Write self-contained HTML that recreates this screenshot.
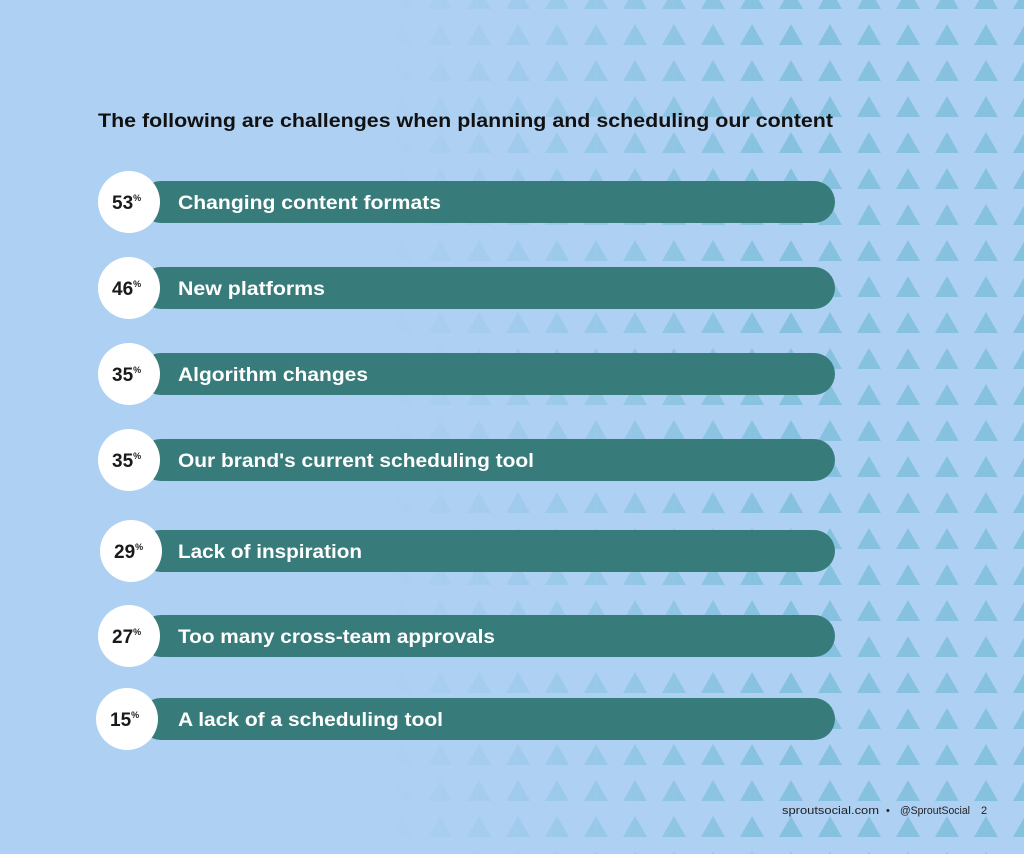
<!DOCTYPE html>
<html><head><style>
body{margin:0;width:1024px;height:854px;overflow:hidden;background:#aed0f3;font-family:"Liberation Sans",sans-serif}
</style></head><body>
<svg width="1024" height="854" xmlns="http://www.w3.org/2000/svg" style="position:absolute;left:0;top:0">
<defs>
<pattern id="tri" patternUnits="userSpaceOnUse" x="30.5" y="24" width="39" height="36">
<polygon points="7.5,21 19.5,0 31.5,21" fill="#86c2df"/>
</pattern>
<linearGradient id="g" x1="0" x2="1" y1="0" y2="0">
<stop offset="0" stop-color="#fff" stop-opacity="0"/>
<stop offset="0.38" stop-color="#fff" stop-opacity="0"/>
<stop offset="0.75" stop-color="#fff" stop-opacity="1"/>
<stop offset="1" stop-color="#fff" stop-opacity="1"/>
</linearGradient>
<mask id="m"><rect width="1024" height="854" fill="url(#g)"/></mask>
</defs>
<rect width="1024" height="854" fill="#aed0f3"/>
<rect width="1024" height="854" fill="url(#tri)" mask="url(#m)"/>
<text x="98" y="127" font-size="19" font-weight="bold" fill="#111" textLength="735" lengthAdjust="spacingAndGlyphs">The following are challenges when planning and scheduling our content</text>
<g font-weight="bold">
<g transform="translate(0,202)"><rect x="140" y="-21" width="695" height="42" rx="21" fill="#377b7a"/><circle cx="129" cy="0" r="31" fill="#fff"/><text x="112" y="7" font-size="19" fill="#1a1a1a">53<tspan font-size="9" dy="-8">%</tspan></text><text x="178" y="7" font-size="19" fill="#fff" textLength="263" lengthAdjust="spacingAndGlyphs">Changing content formats</text></g>
<g transform="translate(0,288)"><rect x="140" y="-21" width="695" height="42" rx="21" fill="#377b7a"/><circle cx="129" cy="0" r="31" fill="#fff"/><text x="112" y="7" font-size="19" fill="#1a1a1a">46<tspan font-size="9" dy="-8">%</tspan></text><text x="178" y="7" font-size="19" fill="#fff" textLength="147" lengthAdjust="spacingAndGlyphs">New platforms</text></g>
<g transform="translate(0,374)"><rect x="140" y="-21" width="695" height="42" rx="21" fill="#377b7a"/><circle cx="129" cy="0" r="31" fill="#fff"/><text x="112" y="7" font-size="19" fill="#1a1a1a">35<tspan font-size="9" dy="-8">%</tspan></text><text x="178" y="7" font-size="19" fill="#fff" textLength="190" lengthAdjust="spacingAndGlyphs">Algorithm changes</text></g>
<g transform="translate(0,460)"><rect x="140" y="-21" width="695" height="42" rx="21" fill="#377b7a"/><circle cx="129" cy="0" r="31" fill="#fff"/><text x="112" y="7" font-size="19" fill="#1a1a1a">35<tspan font-size="9" dy="-8">%</tspan></text><text x="178" y="7" font-size="19" fill="#fff" textLength="356" lengthAdjust="spacingAndGlyphs">Our brand's current scheduling tool</text></g>
<g transform="translate(0,551)"><rect x="140" y="-21" width="695" height="42" rx="21" fill="#377b7a"/><circle cx="131" cy="0" r="31" fill="#fff"/><text x="114" y="7" font-size="19" fill="#1a1a1a">29<tspan font-size="9" dy="-8">%</tspan></text><text x="178" y="7" font-size="19" fill="#fff" textLength="184" lengthAdjust="spacingAndGlyphs">Lack of inspiration</text></g>
<g transform="translate(0,636)"><rect x="140" y="-21" width="695" height="42" rx="21" fill="#377b7a"/><circle cx="129" cy="0" r="31" fill="#fff"/><text x="112" y="7" font-size="19" fill="#1a1a1a">27<tspan font-size="9" dy="-8">%</tspan></text><text x="178" y="7" font-size="19" fill="#fff" textLength="317" lengthAdjust="spacingAndGlyphs">Too many cross-team approvals</text></g>
<g transform="translate(0,719)"><rect x="140" y="-21" width="695" height="42" rx="21" fill="#377b7a"/><circle cx="127" cy="0" r="31" fill="#fff"/><text x="110" y="7" font-size="19" fill="#1a1a1a">15<tspan font-size="9" dy="-8">%</tspan></text><text x="178" y="7" font-size="19" fill="#fff" textLength="265" lengthAdjust="spacingAndGlyphs">A lack of a scheduling tool</text></g>
</g>
<g font-size="11" fill="#222">
<text x="782" y="814" textLength="97" lengthAdjust="spacingAndGlyphs">sproutsocial.com</text>
<text x="886" y="814">•</text>
<text x="900" y="814" textLength="70" lengthAdjust="spacingAndGlyphs">@SproutSocial</text>
<text x="981" y="814">2</text>
</g>
</svg>
</body></html>
